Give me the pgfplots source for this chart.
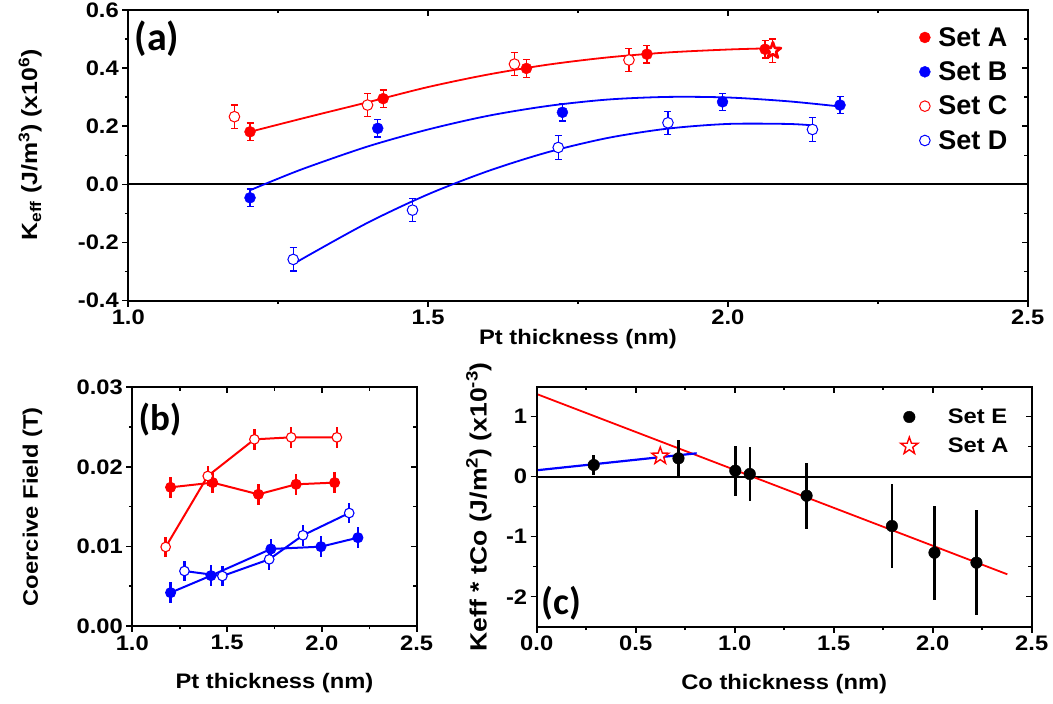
\documentclass[border=0pt]{standalone}
\usepackage{fontspec}
\setmainfont{Liberation Sans}
\newfontfamily\wide{Liberation Sans}[FakeStretch=1.13]
\newfontfamily\calib{Carlito}
\usepackage{pgfplots}
\pgfplotsset{compat=1.18}
\usetikzlibrary{plotmarks}
\definecolor{myred}{RGB}{255,0,0}
\definecolor{myblue}{RGB}{0,0,255}
\newcommand\lf{\wide\bfseries\fontsize{21}{25}\selectfont}
\pgfdeclareplotmark{ostar}{%
  \pgfpathmoveto{\pgfqpointpolar{90}{\pgfplotmarksize}}%
  \pgfpathlineto{\pgfqpointpolar{126}{0.40\pgfplotmarksize}}%
  \pgfpathlineto{\pgfqpointpolar{162}{\pgfplotmarksize}}%
  \pgfpathlineto{\pgfqpointpolar{198}{0.40\pgfplotmarksize}}%
  \pgfpathlineto{\pgfqpointpolar{234}{\pgfplotmarksize}}%
  \pgfpathlineto{\pgfqpointpolar{270}{0.40\pgfplotmarksize}}%
  \pgfpathlineto{\pgfqpointpolar{306}{\pgfplotmarksize}}%
  \pgfpathlineto{\pgfqpointpolar{342}{0.40\pgfplotmarksize}}%
  \pgfpathlineto{\pgfqpointpolar{18}{\pgfplotmarksize}}%
  \pgfpathlineto{\pgfqpointpolar{54}{0.40\pgfplotmarksize}}%
  \pgfpathclose
  \pgfusepathqfillstroke
}
\pgfplotsset{
  base/.style={
    scale only axis, anchor=south west,
    axis line style={line width=2pt},
    every tick/.style={line width=1.6pt, black},
    major tick length=6pt, minor tick length=3.5pt,
    tick align=outside, xtick pos=left, ytick pos=left,
    tick label style={font=\lf},
    label style={font=\lf},
    scaled x ticks=false, scaled y ticks=false,
    /pgf/number format/assume math mode=true,
  },
  over/.style={
    scale only axis, anchor=south west,
    axis line style={line width=2pt},
    every tick/.style={line width=1.6pt, black},
    major tick length=6pt, minor tick length=3.5pt,
    tick align=inside, xtick pos=right, ytick pos=right,
    scaled x ticks=false, scaled y ticks=false,
    xticklabels={}, yticklabels={},
  },
  limA/.style={at={(128.3pt,403.3pt)}, width=899.4pt, height=290.7pt,
    xmin=1, xmax=2.5, ymin=-0.4, ymax=0.6,
    xtick={1,1.5,2,2.5}, ytick={-0.4,-0.2,0,0.2,0.4,0.6},
    minor x tick num=1, minor y tick num=1},
  limB/.style={at={(132.3pt,78pt)}, width=284.4pt, height=238.7pt,
    xmin=1, xmax=2.5, ymin=0, ymax=0.03,
    xtick={1,1.5,2,2.5}, ytick={0,0.01,0.02,0.03},
    minor x tick num=1, minor y tick num=1},
  limC/.style={at={(536.7pt,77.3pt)}, width=495pt, height=240pt,
    xmin=0, xmax=2.5, ymin=-2.5, ymax=1.5,
    xtick={0,0.5,1,1.5,2,2.5}, ytick={-2,-1,0,1},
    minor x tick num=1, minor y tick num=1},
  errA/.style={error bars/.cd, y dir=both, y explicit,
    error bar style={line width=1.2pt, #1},
    error mark options={rotate=90, line width=1.2pt, mark size=3.5pt, #1}},
  errB/.style={error bars/.cd, y dir=both, y explicit, error mark=none,
    error bar style={line width=2.5pt, #1}},
}
\begin{document}
\begin{tikzpicture}
\path[use as bounding box] (0pt,0pt) rectangle (1053pt,704pt);

% ---------------- (a) ----------------
\begin{axis}[base, limA,
  xticklabel style={/pgf/number format/.cd,fixed,fixed zerofill,precision=1},
  yticklabel style={/pgf/number format/.cd,fixed,fixed zerofill,precision=1},
  xlabel={Pt thickness (nm)},
  ylabel={K\textsubscript{eff} (J/m\textsuperscript{3}) (x10\textsuperscript{6})},
  xlabel style={at={(axis description cs:0.5,-0.152)}, anchor=base},
  ylabel style={at={(axis description cs:-0.1015,0.536)}, anchor=base, font=\wide\bfseries\fontsize{22}{25}\selectfont},
  legend style={draw=none, fill=none, at={(0.876,0.955)}, anchor=north west,
    font=\bfseries\fontsize{27}{28}\selectfont, row sep=10pt,
    nodes={inner sep=2pt}, column sep=6pt},
  legend cell align=left,
  legend image code/.code={\draw[#1] plot coordinates {(0pt,0pt)};},
]
\addplot[black, line width=2pt, forget plot] coordinates {(1,0) (2.5,0)};
\addplot[myred, line width=1.8pt, smooth, forget plot] coordinates {
(1.203,0.181) (1.3,0.232) (1.4,0.283) (1.5,0.335) (1.6,0.378) (1.7,0.412)
(1.8,0.437) (1.9,0.454) (2.0,0.464) (2.065,0.468)};
\addplot[myblue, line width=1.8pt, smooth, forget plot] coordinates {
(1.203,-0.020) (1.25,0.020) (1.3,0.060) (1.4,0.131) (1.5,0.189) (1.6,0.236)
(1.7,0.270) (1.8,0.292) (1.9,0.301) (2.0,0.299) (2.1,0.286) (2.187,0.268)};
\addplot[myblue, line width=1.8pt, smooth, forget plot] coordinates {
(1.275,-0.275) (1.3,-0.2445) (1.4,-0.131) (1.5,-0.034) (1.6,0.046) (1.7,0.111)
(1.8,0.160) (1.9,0.192) (2.0,0.208) (2.1,0.208) (2.141,0.203)};
% Set A
\addplot[only marks, mark=*, mark size=5.5pt, mark options={draw=myred, fill=myred},
  errA=myred] table[row sep=\\, x index=0, y index=1, y error index=2] {
1.203 0.181 0.030\\ 1.425 0.295 0.030\\ 1.664 0.399 0.030\\ 1.865 0.448 0.030\\ 2.062 0.465 0.030\\};
\addlegendentry{Set A}
% Set B
\addplot[only marks, mark=*, mark size=5.5pt, mark options={draw=myblue, fill=myblue},
  errA=myblue] table[row sep=\\, x index=0, y index=1, y error index=2] {
1.203 -0.046 0.030\\ 1.416 0.193 0.030\\ 1.724 0.248 0.030\\ 1.991 0.284 0.030\\ 2.187 0.273 0.030\\};
\addlegendentry{Set B}
% Set C
\addplot[only marks, mark=*, mark size=5.3pt, mark options={draw=myred, fill=white, line width=1pt},
  errA=myred] table[row sep=\\, x index=0, y index=1, y error index=2] {
1.177 0.233 0.040\\ 1.399 0.273 0.040\\ 1.644 0.414 0.040\\ 1.835 0.428 0.040\\};
\addlegendentry{Set C}
% Set D
\addplot[only marks, mark=*, mark size=5.3pt, mark options={draw=myblue, fill=white, line width=1pt},
  errA=myblue] table[row sep=\\, x index=0, y index=1, y error index=2] {
1.275 -0.258 0.040\\ 1.474 -0.0885 0.040\\ 1.717 0.127 0.040\\ 1.900 0.212 0.040\\ 2.141 0.189 0.040\\};
\addlegendentry{Set D}
% star
\addplot[only marks, mark=ostar, mark size=8.5pt,
  mark options={draw=myred, fill=white, line width=2.6pt, line join=round}, forget plot,
  errA=myred] table[row sep=\\, x index=0, y index=1, y error index=2] {
2.075 0.460 0.040\\};
\end{axis}
\begin{axis}[over, limA]
\end{axis}

% ---------------- (b) ----------------
\begin{axis}[base, limB,
  xticklabel style={/pgf/number format/.cd,fixed,fixed zerofill,precision=1},
  yticklabel style={/pgf/number format/.cd,fixed,fixed zerofill,precision=2},
  xlabel={Pt thickness (nm)},
  ylabel={Coercive Field (T)},
  xlabel style={at={(axis description cs:0.5,-0.261)}, anchor=base},
  ylabel style={at={(axis description cs:-0.332,0.5)}, anchor=base},
]
\addplot[myred, line width=2pt, mark=*, mark size=5pt,
  mark options={draw=myred, fill=myred, line width=1pt},
  errB=myred] table[row sep=\\, x index=0, y index=1, y error index=2] {
1.202 0.01743 0.0013\\ 1.424 0.01802 0.0013\\ 1.665 0.01655 0.0013\\ 1.864 0.01781 0.0013\\ 2.067 0.01802 0.0013\\};
\addplot[myred, line width=2pt, mark=*, mark size=4.8pt,
  mark options={draw=myred, fill=white, line width=1.1pt},
  errB=myred] table[row sep=\\, x index=0, y index=1, y error index=2] {
1.176 0.00993 0.0013\\ 1.398 0.01885 0.0013\\ 1.644 0.02346 0.0013\\ 1.838 0.02371 0.0013\\ 2.079 0.02371 0.0013\\};
\addplot[myblue, line width=2pt, mark=*, mark size=5pt,
  mark options={draw=myblue, fill=myblue, line width=1pt},
  errB=myblue] table[row sep=\\, x index=0, y index=1, y error index=2] {
1.202 0.00419 0.0013\\ 1.415 0.00633 0.0013\\ 1.731 0.00968 0.0013\\ 1.995 0.00997 0.0013\\ 2.190 0.0111 0.0013\\};
\addplot[myblue, line width=2pt, mark=*, mark size=4.8pt,
  mark options={draw=myblue, fill=white, line width=1.1pt},
  errB=myblue] table[row sep=\\, x index=0, y index=1, y error index=2] {
1.275 0.00691 0.0013\\ 1.475 0.00628 0.0013\\ 1.722 0.00838 0.0013\\ 1.900 0.0114 0.0013\\ 2.144 0.0142 0.0013\\};
\end{axis}
\begin{axis}[over, limB]
\end{axis}

% ---------------- (c) ----------------
\begin{axis}[base, limC,
  xticklabel style={/pgf/number format/.cd,fixed,fixed zerofill,precision=1},
  yticklabel style={/pgf/number format/.cd,fixed,precision=0},
  xlabel={Co thickness (nm)},
  ylabel={Keff * tCo (J/m\textsuperscript{2}) (x10\textsuperscript{-3})},
  xlabel style={at={(axis description cs:0.5,-0.26)}, anchor=base},
  ylabel style={at={(axis description cs:-0.101,0.5)}, anchor=base, font=\wide\bfseries\fontsize{23.5}{25}\selectfont},
  legend style={draw=none, fill=none, at={(0.729,0.925)}, anchor=north west,
    font=\lf, row sep=9pt, nodes={inner sep=2pt}, column sep=28pt},
  legend cell align=left,
  legend image code/.code={\draw[#1] plot coordinates {(0pt,0pt)};},
]
\addplot[black, line width=2pt, forget plot] coordinates {(0,0) (2.5,0)};
\addplot[myred, line width=1.8pt, forget plot] coordinates {(0,1.378) (2.377,-1.627)};
\addplot[myblue, line width=2.2pt, forget plot] coordinates {(0,0.107) (0.808,0.39)};
\addplot[only marks, mark=*, mark size=5.8pt, mark options={draw=black, fill=black},
  errB=black] table[row sep=\\, x index=0, y index=1, y error index=2] {
0.288 0.195 0.16\\ 0.716 0.306 0.31\\ 1.003 0.10 0.415\\ 1.076 0.045 0.445\\
1.363 -0.317 0.547\\ 1.794 -0.822 0.708\\ 2.009 -1.267 0.78\\ 2.221 -1.433 0.87\\};
\addlegendentry{Set E}
\addplot[only marks, mark=ostar, mark size=9pt,
  mark options={draw=myred, fill=white, line width=1.4pt}] coordinates {(0.624,0.345)};
\addlegendentry{Set A}
\end{axis}
\begin{axis}[over, limC]
\end{axis}

\node[font=\calib\bfseries\fontsize{40}{40}\selectfont] at (157pt,665pt) {(a)};
\node[font=\calib\bfseries\fontsize{37}{37}\selectfont] at (160pt,284pt) {(b)};
\node[font=\calib\bfseries\fontsize{38}{38}\selectfont] at (561.7pt,100.7pt) {(c)};
\end{tikzpicture}
\end{document}
